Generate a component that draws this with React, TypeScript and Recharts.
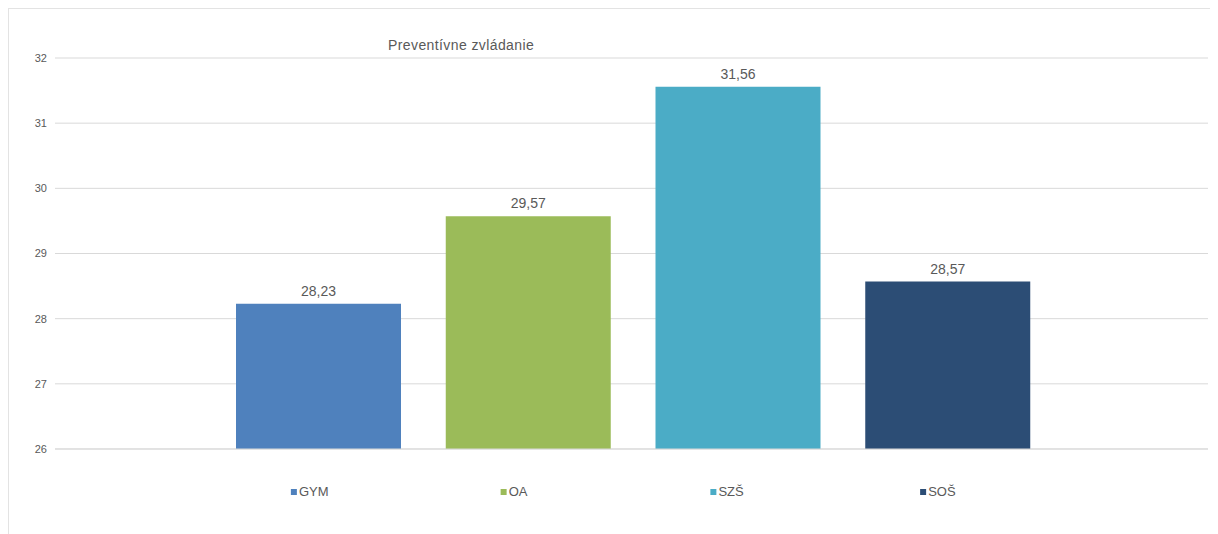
import { BarChart, Bar, XAxis, YAxis, CartesianGrid, LabelList, Cell } from "recharts";

// ─── Data ────────────────────────────────────────────────

const categories = ["GYM", "OA", "SZŠ", "SOŠ"];
const values = [28.23, 29.57, 31.56, 28.57];
const colors = ["#4f81bd", "#9bbb59", "#4bacc6", "#2c4d75"];
const yTicks = [26, 27, 28, 29, 30, 31, 32];
const title = "Preventívne zvládanie";

const data = categories.map((name, i) => ({ name, value: values[i] }));

const FONT = "'Liberation Sans', Arial, sans-serif";
const TEXT = "#595959";

// ─── Helpers ─────────────────────────────────────────────

const formatComma = (v: number) => v.toFixed(2).replace(".", ",");

// legend drawn as x-axis ticks so each item sits under its bar
function LegendTick(props: any) {
  const { x, y, payload, index } = props;
  const color = colors[index ?? categories.indexOf(payload.value)];
  return (
    <g>
      <rect x={x - 28} y={y + 32} width={6} height={6} fill={color} />
      <text x={x - 20} y={y + 39} fontSize={13} fontFamily={FONT} fill={TEXT}>
        {payload.value}
      </text>
    </g>
  );
}

// ─── Main ────────────────────────────────────────────────

export default function App() {
  return (
    <div
      style={{
        position: "relative",
        width: 1210,
        height: 526,
        borderLeft: "1px solid #e3e3e3",
        borderTop: "1px solid #e3e3e3",
        boxSizing: "border-box",
        background: "#fff",
      }}
    >
      <div
        style={{
          position: "absolute",
          left: 379,
          top: 28,
          fontFamily: FONT,
          fontSize: 14,
          letterSpacing: 0.4,
          color: TEXT,
        }}
      >
        {title}
      </div>
      <BarChart
        width={1209}
        height={525}
        data={data}
        margin={{ top: 49, right: 10, bottom: 25, left: 0 }}
      >
        <CartesianGrid stroke="#d9d9d9" vertical={false} />
        <XAxis
          dataKey="name"
          axisLine={{ stroke: "#d9d9d9" }}
          tickLine={false}
          height={60}
          padding={{ left: 159, right: 155 }}
          tick={<LegendTick />}
          interval={0}
        />
        <YAxis
          domain={[26, 32]}
          ticks={yTicks}
          width={46}
          axisLine={false}
          tickLine={false}
          tick={{ fontSize: 11, fill: TEXT, fontFamily: FONT }}
        />
        <Bar dataKey="value" barSize={165} isAnimationActive={false}>
          {data.map((d, i) => (
            <Cell key={d.name} fill={colors[i]} />
          ))}
          <LabelList
            dataKey="value"
            position="top"
            offset={8}
            formatter={(v: any) => formatComma(Number(v))}
            style={{ fontSize: 14, fill: TEXT, fontFamily: FONT }}
          />
        </Bar>
      </BarChart>
    </div>
  );
}
